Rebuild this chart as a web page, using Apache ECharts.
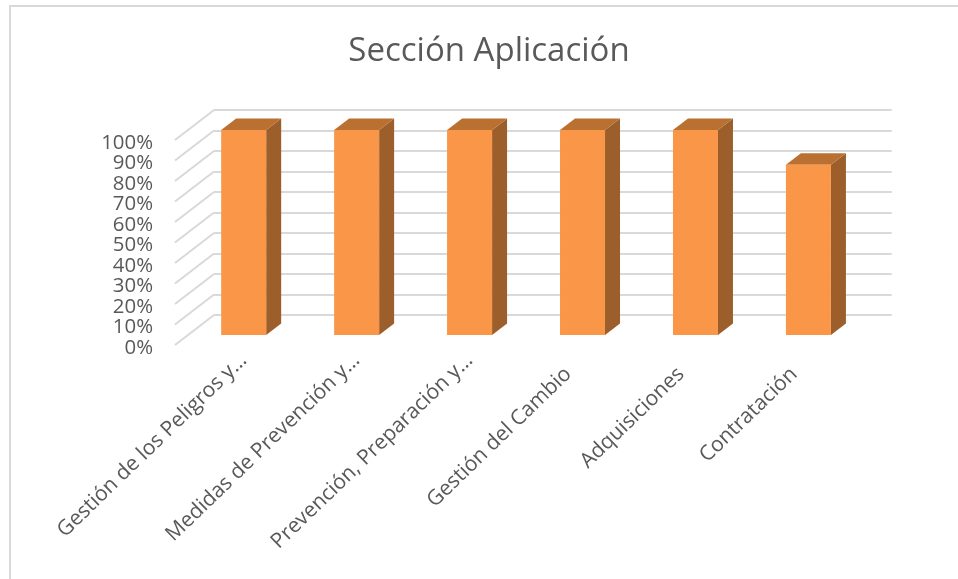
<!DOCTYPE html>
<html><head><meta charset="utf-8">
<style>html,body{margin:0;padding:0;background:#fff}#c{width:958px;height:579px}</style>
<script src="https://cdn.jsdelivr.net/npm/echarts@6/dist/echarts.min.js"></script>
</head><body><div id="c"></div>
<script>
const categories = ["Gestión de los Peligros y…", "Medidas de Prevención y…", "Prevención, Preparación y…", "Gestión del Cambio", "Adquisiciones", "Contratación"];
const values = [100, 100, 100, 100, 100, 83];
const yTicks = [0,10,20,30,40,50,60,70,80,90,100];

const DEPTH_X = 39, DEPTH_Y = -30;
const BAR_SIDE_X = 15, BAR_SIDE_Y = -11.5;
const BAR_W = 45;
const labelFont = {color:'#595959', fontFamily:'Open Sans', fontSize:21};

const chart = echarts.init(document.getElementById('c'), null, {renderer:'canvas'});
chart.setOption({
  animation:false,
  backgroundColor:'#fff',
  title:{text:'Sección Aplicación', left:484, top:30, textAlign:'center',
    textStyle:{fontFamily:'Open Sans', fontSize:33, fontWeight:'normal', color:'#595959'}},
  graphic:[{type:'rect', silent:true, z:-10, shape:{x:10,y:6,width:1000,height:640},
    style:{fill:'#fff', stroke:'#D9D9D9', lineWidth:2}}],
  grid:[
    {left:175, top:140, width:677.7, height:205},
    {left:214, top:110, width:677.7, height:205},
    {left:187.2, top:130, width:677.7, height:205},
    {left:175, top:143, width:677.7, height:205}
  ],
  xAxis:[
    {type:'category', gridIndex:0, data:categories, show:false},
    {type:'category', gridIndex:1, data:categories, show:false},
    {type:'category', gridIndex:2, data:categories,
     axisLine:{show:false}, axisTick:{show:false}, splitLine:{show:false},
     axisLabel:Object.assign({rotate:44, interval:0, margin:22, hideOverlap:false,
       formatter:v=>v.endsWith('…') ? v : '{s|'+v+'}',
       rich:{s:Object.assign({padding:[0,20,0,0]}, labelFont)}}, labelFont)},
    {type:'category', gridIndex:3, data:categories, show:false}
  ],
  yAxis:[
    {type:'value', gridIndex:0, min:0, max:100, interval:10, show:false, splitLine:{show:false}},
    {type:'value', gridIndex:1, min:0, max:100, interval:10,
     axisLine:{show:false}, axisTick:{show:false}, axisLabel:{show:false},
     splitLine:{show:true, lineStyle:{color:'#D9D9D9', width:2}}},
    {type:'value', gridIndex:2, min:0, max:100, interval:10, show:false, splitLine:{show:false}},
    {type:'value', gridIndex:3, min:0, max:100, interval:10,
     axisLine:{show:false}, axisTick:{show:false}, splitLine:{show:false},
     axisLabel:{formatter:'{value}%', margin:22, color:'#595959', fontFamily:'Open Sans', fontSize:20.4}}
  ],
  series:[
    {type:'custom', xAxisIndex:0, yAxisIndex:0, z:1, silent:true,
     data:yTicks.map(v=>[0,v]),
     renderItem(params, api){
       const p = api.coord([0, api.value(1)]);
       const half = api.size([1,0])[0]/2;
       const x = p[0]-half;
       return {type:'line', shape:{x1:x,y1:p[1],x2:x+DEPTH_X,y2:p[1]+DEPTH_Y},
         style:{stroke:'#D9D9D9', lineWidth:2}};
     }},
    {type:'custom', xAxisIndex:2, yAxisIndex:2, z:2, silent:true,
     data:values.map((v,i)=>[i,v]),
     renderItem(params, api){
       const top = api.coord([api.value(0), api.value(1)]);
       const base = api.coord([api.value(0), 0]);
       const l = top[0]-BAR_W/2, r = l+BAR_W;
       const t = top[1], b = base[1];
       const sx = BAR_SIDE_X, sy = BAR_SIDE_Y;
       return {type:'group', children:[
         {type:'polygon', shape:{points:[[r,t],[r+sx,t+sy],[r+sx,b+sy],[r,b]]}, style:{fill:'#9C5F2B'}},
         {type:'polygon', shape:{points:[[l,t],[l+sx,t+sy],[r+sx,t+sy],[r,t]]}, style:{fill:'#BA7030'}},
         {type:'rect', shape:{x:l,y:t,width:BAR_W,height:b-t}, style:{fill:'#F99648'}}
       ]};
     }}
  ]
});
</script></body></html>
